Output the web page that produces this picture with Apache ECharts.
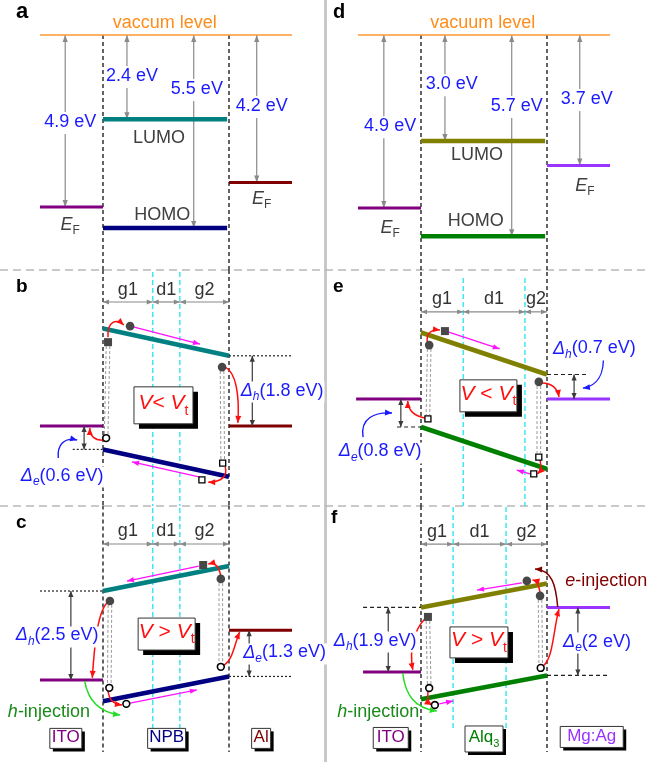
<!DOCTYPE html>
<html>
<head>
<meta charset="utf-8">
<title>Energy level diagrams: ITO/NPB/Al and ITO/Alq3/Mg:Ag</title>
<script src="https://cdn.jsdelivr.net/npm/echarts@6/dist/echarts.min.js"></script>
<style>
html,body{margin:0;padding:0;background:#ffffff;}
#chart{width:647px;height:762px;}
</style>
</head>
<body>
<div id="chart"></div>
<script>
// ---------------- values ----------------
const npbLayers = ['ITO', 'NPB', 'Al'];
const alqLayers = ['ITO', 'Alq3', 'Mg:Ag'];

// depth below the vacuum level (eV)
const npbElectrodeWF = [4.9, 4.2];   // ITO, Al
const npbOrbitalDepth = [2.4, 5.5];  // LUMO, HOMO
const alqElectrodeWF = [4.9, 3.7];   // ITO, Mg:Ag
const alqOrbitalDepth = [3.0, 5.7];  // LUMO, HOMO

// under bias, relative to the ITO Fermi level (eV):
// [ITO EF, LUMO at ITO, LUMO at cathode, HOMO at ITO, HOMO at cathode, cathode EF]
const npbLowBias  = [0, 2.5, 1.8, -0.6, -1.3, 0];
const npbHighBias = [0, 2.5, 3.2, -0.6, 0.1, 1.4];
const alqLowBias  = [0, 1.9, 0.7, -0.8, -2.0, 0];
const alqHighBias = [0, 1.9, 2.6, -0.8, -0.1, 1.9];

// g1 / d1 / g2 widths inside the organic film (the film spans 2 units)
const sublayerNames = ['g1', 'd1', 'g2'];
const npbSublayers = [0.79, 0.43, 0.78];
const alqSublayersLow = [0.67, 0.98, 0.35];
const alqSublayersHigh = [0.51, 0.84, 0.65];

// carrier sketches, [kind, x, eV] in each panel's axes
const bCarriers = [['dot', 1.43, 2.56], ['dot', 2.89, 1.51], ['square', 1.08, 2.15],
  ['hole', 1.05, -0.31], ['box', 2.90, -0.95], ['box', 2.57, -1.38]];
const cCarriers = [['dot', 2.87, 2.84], ['dot', 1.11, 2.22], ['square', 2.59, 3.23],
  ['hole', 1.10, -0.22], ['hole', 1.37, -0.67], ['hole', 2.87, 0.37]];
const eCarriers = [['dot', 1.13, 1.54], ['dot', 2.87, 0.49], ['square', 1.38, 1.94],
  ['box', 1.11, -0.57], ['box', 2.87, -1.66], ['box', 2.79, -2.14]];
const fCarriers = [['dot', 2.68, 2.68], ['dot', 2.89, 2.24], ['square', 1.11, 1.62],
  ['hole', 1.13, -0.47], ['hole', 1.22, -0.97], ['hole', 2.90, 0.12]];

// hops between sites and electrodes (cubic curves: start, control, control, end)
const bHops = [
  [[1.08, 2.28], [1.06, 2.67], [1.21, 2.77], [1.33, 2.59]],
  [[2.94, 1.51], [3.11, 1.38], [3.17, 0.79], [3.14, 0.08]],
  [[1.02, -0.36], [0.87, -0.38], [0.79, -0.26], [0.79, -0.05]],
  [[2.94, -1.05], [2.98, -1.28], [2.89, -1.44], [2.67, -1.44]]];
const cHops = [
  [[2.87, 2.92], [2.84, 3.20], [2.78, 3.31], [2.67, 3.26]],
  [[1.06, 2.16], [0.90, 1.83], [0.86, 0.84], [0.83, 0.06]],
  [[1.08, -0.31], [1.10, -0.56], [1.16, -0.67], [1.30, -0.70]],
  [[2.92, 0.42], [3.06, 0.56], [3.08, 0.98], [3.17, 1.35]]];
const eHops = [
  [[1.10, 1.63], [1.08, 1.89], [1.17, 2.00], [1.30, 1.97]],
  [[2.92, 0.46], [3.08, 0.46], [3.17, 0.29], [3.19, 0.06]],
  [[1.06, -0.54], [0.89, -0.49], [0.79, -0.31], [0.79, -0.06]],
  [[2.89, -1.74], [2.91, -1.92], [2.91, -2.04], [2.85, -2.14]]];
const fHops = [
  [[2.89, 2.35], [2.87, 2.56], [2.84, 2.68], [2.77, 2.71]],
  [[1.06, 1.56], [0.89, 1.24], [0.81, 0.65], [0.87, 0.06]],
  [[1.11, -0.56], [1.10, -0.76], [1.11, -0.91], [1.17, -0.97]],
  [[2.94, 0.18], [3.10, 0.41], [3.10, 1.24], [3.19, 1.85]]];

// drift along the transport levels
const bDrift = [[[1.48, 2.54], [2.54, 2.10]], [[2.54, -1.31], [1.46, -0.92]]];
const cDrift = [[[2.52, 3.20], [1.38, 2.78]], [[1.43, -0.65], [2.49, -0.28]]];
const eDrift = [[[1.44, 1.91], [2.25, 1.43]], [[2.73, -2.14], [2.52, -2.03]]];
const fDrift = [[[2.60, 2.62], [1.89, 2.41]], [[1.29, -0.94], [1.51, -0.85]]];

// vertical transitions between paired sites
const bPairs = [[[1.08, 2.05], [1.05, -0.21]], [[2.89, 1.41], [2.90, -0.85]]];
const cPairs = [[[1.11, 2.11], [1.10, -0.14]], [[2.87, 2.72], [2.87, 0.48]]];
const ePairs = [[[1.13, 1.43], [1.11, -0.46]], [[2.87, 0.37], [2.87, -1.54]]];
const fPairs = [[[1.11, 1.50], [1.13, -0.38]], [[2.89, 2.12], [2.90, 0.24]]];

// ---------------- look ----------------
const FONT = '"Liberation Sans", Arial, Helvetica, sans-serif';
const INK = '#404040';
const BLUE = '#1a1aff';
const RED = '#ff1010';
const MAGENTA = '#ff10ff';
const ARROW_GRAY = '#8a8a8a';
const C_ITO = '#800080', C_AL = '#800000', C_MGAG = '#9933ff';
const C_NPB_L = '#008080', C_NPB_H = '#000080';
const C_ALQ_L = '#808000', C_ALQ_H = '#008000';
const UNIT = 63;   // px per layout unit across a diagram
const COLUMNS = [{left: 0, right: 324, x0: 40}, {left: 326, right: 647, x0: 358}];
const PANELS = [
  {id: 'a', col: 0, top: 0,   bottom: 270, ref: 35,  k: 35.1},
  {id: 'b', col: 0, top: 270, bottom: 506, ref: 426, k: 39},
  {id: 'c', col: 0, top: 506, bottom: 762, ref: 680, k: 35.6},
  {id: 'd', col: 1, top: 0,   bottom: 270, ref: 35,  k: 35.3},
  {id: 'e', col: 1, top: 270, bottom: 506, ref: 399, k: 35},
  {id: 'f', col: 1, top: 506, bottom: 762, ref: 672, k: 34}
];

const fmt = v => String(Math.round(v * 10) / 10);

function rich(color, size) {
  const sub = Math.round(size * 0.66);
  const base = {fill: color, fontSize: size, fontFamily: FONT, lineHeight: size + 2, verticalAlign: 'top'};
  return {
    n: base,
    i: Object.assign({}, base, {fontStyle: 'italic'}),
    s: {fill: color, fontSize: sub, fontFamily: FONT, fontStyle: 'italic', verticalAlign: 'top', padding: [Math.round(size * 0.5), 0, 0, 0]},
    u: {fill: color, fontSize: sub, fontFamily: FONT, verticalAlign: 'top', padding: [Math.round(size * 0.5), 0, 0, 0]}
  };
}

// ---------------- drawing helpers (pixel points come from api.coord) ----------------
function seg(p, q, stroke, w, dash) {
  return {type: 'line', shape: {x1: p[0], y1: p[1], x2: q[0], y2: q[1]},
    style: {stroke: stroke, lineWidth: w, lineDash: dash || null, fill: null}};
}
function head(tip, from, color, len, half) {
  const dx = tip[0] - from[0], dy = tip[1] - from[1];
  const L = Math.hypot(dx, dy) || 1, ux = dx / L, uy = dy / L;
  const bx = tip[0] - ux * len, by = tip[1] - uy * len;
  return {type: 'polygon', shape: {points: [tip, [bx - uy * half, by + ux * half], [bx + uy * half, by - ux * half]]},
    style: {fill: color}};
}
function arrow(c, a, b, color, w, len, half, both) {
  const p = c(a), q = c(b);
  const out = [seg(p, q, color, w), head(q, p, color, len, half)];
  if (both) out.push(head(p, q, color, len, half));
  return out;
}
function curveArrow(c, pts, color, w) {
  const [p0, p1, p2, p3] = pts.map(c);
  return [{type: 'bezierCurve', shape: {x1: p0[0], y1: p0[1], cpx1: p1[0], cpy1: p1[1], cpx2: p2[0], cpy2: p2[1], x2: p3[0], y2: p3[1]},
    style: {stroke: color, lineWidth: w, fill: null}}, head(p3, p2, color, 7, 3)];
}
function label(c, at, text, color, size, align, extra) {
  const p = c(at);
  return {type: 'text', x: p[0], y: p[1], z2: 20,
    style: Object.assign({text: text, rich: rich(color, size), fill: color, fontSize: size, fontFamily: FONT,
      align: align || 'center', verticalAlign: 'middle'}, extra || {})};
}
function framed(c, at, w, h, shadow, text, color, size) {
  const p = c(at);
  const x = p[0] - w / 2, y = p[1] - h / 2;
  return [
    {type: 'rect', shape: {x: x + shadow, y: y + shadow, width: w, height: h}, style: {fill: '#000'}},
    {type: 'rect', shape: {x: x, y: y, width: w, height: h}, style: {fill: '#fff', stroke: '#333', lineWidth: 1}},
    {type: 'text', x: p[0], y: p[1], z2: 5, style: {text: text, rich: rich(color, size), align: 'center', verticalAlign: 'middle'}}
  ];
}
function carrier(c, kind, x, y) {
  const p = c([x, y]);
  if (kind === 'dot') return {type: 'circle', shape: {cx: p[0], cy: p[1], r: 4.3}, style: {fill: '#474747'}};
  if (kind === 'square') return {type: 'rect', shape: {x: p[0] - 4, y: p[1] - 4, width: 8, height: 8}, style: {fill: '#474747'}};
  if (kind === 'hole') return {type: 'circle', shape: {cx: p[0], cy: p[1], r: 3.4}, style: {fill: '#fff', stroke: '#000', lineWidth: 1.6}};
  return {type: 'rect', shape: {x: p[0] - 3, y: p[1] - 3, width: 6, height: 6}, style: {fill: '#fff', stroke: '#000', lineWidth: 1.3}};
}

// ---------------- zero-bias panels (a, d) ----------------
function flatPanel(c, yMin, wf, orb, lay) {
  const els = [];
  [1, 3].forEach(x => els.push(seg(c([x, 0]), c([x, yMin]), '#111', 1.3, [4, 3])));
  const depths = [wf[0], orb[0], orb[1], wf[1]];
  depths.forEach((d, i) => {
    els.push(...arrow(c, [lay.arrowX[i], 0], [lay.arrowX[i], -d], ARROW_GRAY, 1.2, 7, 2.6, true));
  });
  depths.forEach((d, i) => {
    const [lx, ly, al] = lay.valueLabels[i];
    els.push(label(c, [lx, ly], '{n|' + d.toFixed(1) + ' eV}', BLUE, 18, al, {backgroundColor: '#fff', padding: [1, 1]}));
  });
  els.push(label(c, [1.98, 0.31], '{n|' + lay.vacuumText + '}', '#ff8c1a', 18));
  els.push(label(c, [lay.lumoX, -orb[0] - lay.lumoGap], '{n|LUMO}', INK, 18));
  els.push(label(c, [lay.homoX, -orb[1] + lay.homoGap], '{n|HOMO}', INK, 18));
  els.push(label(c, [lay.efX[0], -wf[0] - lay.efGap[0]], '{i|E}{u|F}', INK, 18));
  els.push(label(c, [lay.efX[1], -wf[1] - lay.efGap[1]], '{i|E}{u|F}', INK, 18));
  return els;
}
function flatLevels(idx, wf, orb, cols) {
  const mk = (pts, color, w) => ({type: 'line', xAxisIndex: idx, yAxisIndex: idx, data: pts, symbol: 'none',
    lineStyle: {color: color, width: w}, silent: true, animation: false, z: 3});
  return [
    mk([[0, 0], [4, 0]], '#ff9933', 1.6),
    mk([[0, -wf[0]], [1, -wf[0]]], cols[0], 3),
    mk([[1, -orb[0]], [2.97, -orb[0]]], cols[1], 4.5),
    mk([[1, -orb[1]], [2.97, -orb[1]]], cols[2], 4.5),
    mk([[3, -wf[1]], [4, -wf[1]]], cols[3], 3)
  ];
}

// ---------------- biased panels (b, c, e, f) ----------------
function biasedLevels(idx, L, cols, anodeStart) {
  const mk = (pts, color, w) => ({type: 'line', xAxisIndex: idx, yAxisIndex: idx, data: pts, symbol: 'none',
    lineStyle: {color: color, width: w}, silent: true, animation: false, z: 3});
  return [
    mk([[anodeStart, L[0]], [1, L[0]]], cols[0], 3),
    mk([[1, L[1]], [3, L[2]]], cols[1], 4.6),
    mk([[1, L[3]], [3, L[4]]], cols[2], 4.6),
    mk([[3, L[5]], [4, L[5]]], cols[3], 3)
  ];
}
function biasedBack(c, L, subs, lay) {
  const els = [];
  [1, 3].forEach(x => els.push(seg(c([x, lay.vTop]), c([x, lay.vBottom]), '#111', 1.3, [4, 3])));
  const edges = [1, 1 + subs[0], 1 + subs[0] + subs[1], 3];
  [edges[1], edges[2]].forEach(x => els.push(seg(c([x, lay.cyan[0]]), c([x, lay.cyan[1]]), '#22e4f4', 1.3, [5, 3])));
  for (let i = 0; i < 3; i++) {
    els.push(...arrow(c, [edges[i], lay.dimY], [edges[i + 1], lay.dimY], ARROW_GRAY, 1.2, 6, 2.4, true));
    els.push(label(c, [(edges[i] + edges[i + 1]) / 2, lay.dimLabelY], '{n|' + sublayerNames[i] + '}', '#333', 18));
  }
  lay.refs.forEach(([idx, x1, x2]) => els.push(seg(c([x1, L[idx]]), c([x2, L[idx]]), '#222', 1.2, lay.refDash)));
  return els;
}
function biasedFront(c, L, lay, carriers, hops, drift, pairs) {
  const els = [];
  pairs.forEach(([a, b]) => {
    const p = c(a), q = c(b);
    [-1.8, 1.8].forEach(o => els.push(seg([p[0] + o, p[1]], [q[0] + o, q[1]], '#9a9a9a', 1, [3, 2])));
  });
  lay.deltas.forEach(d => {
    els.push(...arrow(c, [d.x, L[d.a]], [d.x, L[d.b]], '#3a3a3a', 1.2, 6, 2.6, true));
    const val = fmt(Math.abs(L[d.a] - L[d.b]));
    els.push(label(c, [d.lx, d.ly], '{i|Δ}{s|' + d.kind + '}{n|(' + val + ' eV)}', BLUE, 18, 'left',
      {backgroundColor: '#fff', padding: [0, 1]}));
  });
  (lay.pointers || []).forEach(pts => els.push(...curveArrow(c, pts, BLUE, 1.4)));
  drift.forEach(([a, b]) => els.push(...arrow(c, a, b, MAGENTA, 1.3, 7, 2.6, false)));
  hops.forEach(pts => els.push(...curveArrow(c, pts, RED, 1.5)));
  (lay.injections || []).forEach(inj => {
    els.push(...curveArrow(c, inj.pts, inj.color, 1.5));
    els.push(label(c, inj.at, '{i|' + inj.carrier + '}{n|-injection}', inj.textColor, 18, 'left'));
  });
  carriers.forEach(([k, x, y]) => els.push(carrier(c, k, x, y)));
  const b = lay.box;
  els.push(...framed(c, b.at, b.w, b.h, 5, '{i|V}{n|' + b.op + '}{i|V}{u|t}', RED, 21));
  (lay.names || []).forEach(n => els.push(...framed(c, n.at, n.w, n.h, 3, n.text, n.color, 17)));
  return els;
}

// ---------------- layout of each panel ----------------
const aLayout = {
  vacuumText: 'vaccum level',
  arrowX: [0.40, 1.38, 2.44, 3.44],
  valueLabels: [[0.48, -2.51, 'center'], [1.03, -1.20, 'left'], [2.49, -1.57, 'center'], [3.52, -2.05, 'center']],
  lumoX: 1.89, lumoGap: 0.55, homoX: 1.94, homoGap: 0.34, efX: [0.48, 3.52], efGap: [0.55, 0.52]
};
const dLayout = {
  vacuumText: 'vacuum level',
  arrowX: [0.41, 1.38, 2.44, 3.52],
  valueLabels: [[0.51, -2.61, 'center'], [1.06, -1.42, 'left'], [2.52, -2.04, 'center'], [3.63, -1.84, 'center']],
  lumoX: 1.89, lumoGap: 0.42, homoX: 1.87, homoGap: 0.4, efX: [0.51, 3.60], efGap: [0.6, 0.62]
};
const bLayout = {
  vTop: 4.0, vBottom: -2.05, cyan: [3.95, -2.05], dimY: 3.18, dimLabelY: 3.46,
  refs: [[3, 0.52, 1], [2, 3, 4]], refDash: [2, 2],
  deltas: [{kind: 'h', x: 3.37, a: 2, b: 5, lx: 3.17, ly: 0.87}, {kind: 'e', x: 0.70, a: 0, b: 3, lx: -0.32, ly: -1.31}],
  pointers: [[[0.29, -0.82], [0.27, -0.49], [0.38, -0.28], [0.59, -0.36]]],
  box: {at: [1.96, 0.53], w: 59, h: 37, op: '< '}
};
const cLayout = {
  vTop: 4.9, vBottom: -2.02, cyan: [4.83, -1.35], dimY: 3.82, dimLabelY: 4.16,
  refs: [[1, 0, 1], [4, 3, 4]], refDash: [2, 2],
  deltas: [{kind: 'h', x: 0.49, a: 1, b: 0, lx: -0.40, ly: 1.21}, {kind: 'e', x: 3.32, a: 5, b: 4, lx: 3.21, ly: 0.73}],
  injections: [{pts: [[0.71, -0.03], [0.76, -0.56], [0.92, -0.90], [1.27, -0.98]], color: '#22dd22',
    carrier: 'h', at: [-0.51, -0.93], textColor: '#1a8a1a'}],
  box: {at: [2.01, 1.29], w: 57, h: 32, op: ' > '},
  names: [
    {at: [0.41, -1.64], w: 32, h: 20, text: '{n|' + npbLayers[0] + '}', color: C_ITO},
    {at: [2.01, -1.64], w: 38, h: 20, text: '{n|' + npbLayers[1] + '}', color: C_NPB_H},
    {at: [3.51, -1.64], w: 19, h: 20, text: '{n|' + npbLayers[2] + '}', color: C_AL}]
};
const eLayout = {
  vTop: 3.63, vBottom: -3.06, cyan: [3.46, -3.06], dimY: 2.49, dimLabelY: 2.83,
  refs: [[3, 0.62, 1], [2, 3, 3.63]], refDash: [4, 3],
  deltas: [{kind: 'h', x: 3.43, a: 2, b: 5, lx: 3.08, ly: 1.40}, {kind: 'e', x: 0.68, a: 0, b: 3, lx: -0.32, ly: -1.54}],
  pointers: [[[3.89, 1.31], [3.92, 0.69], [3.79, 0.37], [3.57, 0.31]],
             [[0.08, -1.09], [0.03, -0.54], [0.27, -0.37], [0.54, -0.40]]],
  box: {at: [2.07, 0.09], w: 57, h: 32, op: ' < '}
};
const fLayout = {
  vTop: 4.88, vBottom: -2.35, cyan: [4.85, -1.65], dimY: 3.76, dimLabelY: 4.09,
  refs: [[1, 0.08, 1], [4, 3, 4]], refDash: [4, 3],
  deltas: [{kind: 'h', x: 0.48, a: 1, b: 0, lx: -0.40, ly: 0.88}, {kind: 'e', x: 3.49, a: 5, b: 4, lx: 3.24, ly: 0.85}],
  injections: [
    {pts: [[0.71, -0.03], [0.75, -0.68], [0.90, -1.06], [1.25, -1.15]], color: '#22dd22',
     carrier: 'h', at: [-0.33, -1.21], textColor: '#1a8a1a'},
    {pts: [[3.17, 1.91], [3.14, 2.56], [3.08, 3.0], [2.81, 3.03]], color: C_AL,
     carrier: 'e', at: [3.29, 2.65], textColor: C_AL}],
  box: {at: [1.92, 0.87], w: 58, h: 31, op: ' > '},
  names: [
    {at: [0.52, -1.94], w: 35, h: 21, text: '{n|' + alqLayers[0] + '}', color: C_ITO},
    {at: [2.00, -1.97], w: 38, h: 26, text: '{n|Alq}{u|3}', color: C_ALQ_H},
    {at: [3.71, -1.91], w: 63, h: 21, text: '{n|' + alqLayers[2] + '}', color: C_MGAG}]
};

// ---------------- assemble ----------------
const grids = [], xAxes = [], yAxes = [], series = [];
PANELS.forEach((p, i) => {
  const col = COLUMNS[p.col];
  grids.push({left: col.left, top: p.top, width: col.right - col.left, height: p.bottom - p.top,
    containLabel: false, outerBoundsMode: 'none'});
  xAxes.push({type: 'value', gridIndex: i, show: false, min: (col.left - col.x0) / UNIT, max: (col.right - col.x0) / UNIT});
  yAxes.push({type: 'value', gridIndex: i, show: false, min: -(p.bottom - p.ref) / p.k, max: (p.ref - p.top) / p.k});
});
const yMinOf = i => -(PANELS[i].bottom - PANELS[i].ref) / PANELS[i].k;

function custom(idx, z, build) {
  return {type: 'custom', xAxisIndex: idx, yAxisIndex: idx, data: [[0, 0]], clip: false, silent: true, animation: false, z: z,
    renderItem: (params, api) => ({type: 'group', children: build(v => api.coord(v))})};
}

// a: ITO / NPB / Al at zero bias
series.push(custom(0, 2, c => flatPanel(c, yMinOf(0), npbElectrodeWF, npbOrbitalDepth, aLayout)));
series.push(...flatLevels(0, npbElectrodeWF, npbOrbitalDepth, [C_ITO, C_NPB_L, C_NPB_H, C_AL]));
// d: ITO / Alq3 / Mg:Ag at zero bias
series.push(custom(3, 2, c => flatPanel(c, yMinOf(3), alqElectrodeWF, alqOrbitalDepth, dLayout)));
series.push(...flatLevels(3, alqElectrodeWF, alqOrbitalDepth, [C_ITO, C_ALQ_L, C_ALQ_H, C_MGAG]));

const biased = [
  {idx: 1, L: npbLowBias,  subs: npbSublayers,     lay: bLayout, cols: [C_ITO, C_NPB_L, C_NPB_H, C_AL], start: 0,
   carriers: bCarriers, hops: bHops, drift: bDrift, pairs: bPairs},
  {idx: 2, L: npbHighBias, subs: npbSublayers,     lay: cLayout, cols: [C_ITO, C_NPB_L, C_NPB_H, C_AL], start: 0,
   carriers: cCarriers, hops: cHops, drift: cDrift, pairs: cPairs},
  {idx: 4, L: alqLowBias,  subs: alqSublayersLow,  lay: eLayout, cols: [C_ITO, C_ALQ_L, C_ALQ_H, C_MGAG], start: -0.03,
   carriers: eCarriers, hops: eHops, drift: eDrift, pairs: ePairs},
  {idx: 5, L: alqHighBias, subs: alqSublayersHigh, lay: fLayout, cols: [C_ITO, C_ALQ_L, C_ALQ_H, C_MGAG], start: 0.08,
   carriers: fCarriers, hops: fHops, drift: fDrift, pairs: fPairs}
];
biased.forEach(b => {
  series.push(custom(b.idx, 1, c => biasedBack(c, b.L, b.subs, b.lay)));
  series.push(...biasedLevels(b.idx, b.L, b.cols, b.start));
  series.push(custom(b.idx, 4, c => biasedFront(c, b.L, b.lay, b.carriers, b.hops, b.drift, b.pairs)));
});

const letter = (t, x, y, size) => ({type: 'text', x: x, y: y, z: 10,
  style: {text: t, fontSize: size, fontWeight: 'bold', fontFamily: FONT, fill: '#000', verticalAlign: 'middle'}});

const chart = echarts.init(document.getElementById('chart'), null, {renderer: 'canvas'});
chart.setOption({
  backgroundColor: '#ffffff',
  animation: false,
  grid: grids, xAxis: xAxes, yAxis: yAxes,
  series: series,
  graphic: [
    {type: 'rect', z: 0, shape: {x: 324, y: 0, width: 3, height: 762}, style: {fill: '#c8c8c8'}},
    {type: 'line', z: 0, shape: {x1: 0, y1: 270, x2: 647, y2: 270}, style: {stroke: '#b8b8b8', lineWidth: 1.5, lineDash: [8, 5]}},
    {type: 'line', z: 0, shape: {x1: 0, y1: 506, x2: 647, y2: 506}, style: {stroke: '#b8b8b8', lineWidth: 1.5, lineDash: [8, 5]}},
    letter('a', 16, 12, 22), letter('b', 16, 287, 19), letter('c', 16, 523, 19),
    letter('d', 333, 12, 20), letter('e', 333, 287, 19), letter('f', 331, 518, 19)
  ]
});
</script>
</body>
</html>
